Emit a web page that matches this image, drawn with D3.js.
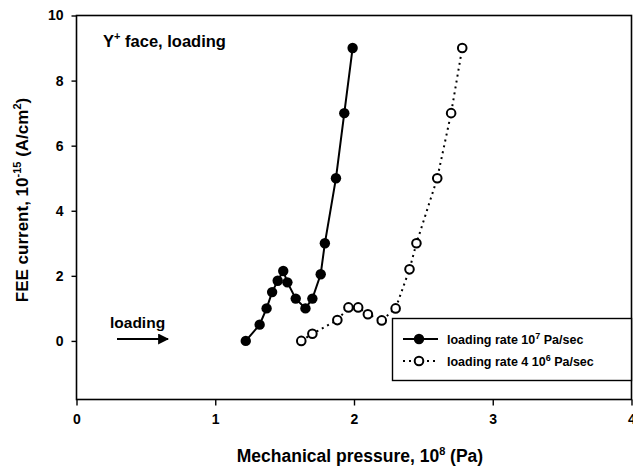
<!DOCTYPE html>
<html>
<head>
<meta charset="utf-8">
<script src="https://cdn.jsdelivr.net/npm/d3@7"></script>
<style>
  body { margin: 0; background: #fff; }
  svg { display: block; font-family: "Liberation Sans", Arial, sans-serif; font-weight: bold; }
</style>
</head>
<body>
<svg id="chart" width="633" height="468"></svg>
<script>
// fast loading rate 10^7 Pa/sec (filled circles)
var fast_x = [1.22, 1.32, 1.37, 1.41, 1.45, 1.49, 1.52, 1.58, 1.65, 1.70, 1.76, 1.79, 1.87, 1.93, 1.99];
var fast_y = [0.0, 0.5, 1.0, 1.5, 1.85, 2.15, 1.8, 1.3, 1.0, 1.3, 2.05, 3.0, 5.0, 7.0, 9.0];

// slow loading rate 4 10^6 Pa/sec (open circles)
var slow_x = [1.62, 1.70, 1.88, 1.96, 2.03, 2.10, 2.20, 2.30, 2.40, 2.45, 2.60, 2.70, 2.78];
var slow_y = [0.0, 0.22, 0.64, 1.03, 1.03, 0.82, 0.63, 1.0, 2.2, 3.0, 5.0, 7.0, 9.0];

var x_ticks = [0, 1, 2, 3, 4];
var y_ticks = [0, 2, 4, 6, 8, 10];

/*************************************************************************/

var svg = d3.select('#chart');
var plotLeft = 76.5, plotRight = 631.5, plotTop = 15.5, plotBottom = 399.5;

var xScale = d3.scaleLinear().domain([0, 4]).range([plotLeft, plotRight]);
var yScale = d3.scaleLinear().domain([-1.8, 10]).range([plotBottom, plotTop]);

// frame
svg.append('rect')
  .attr('x', plotLeft).attr('y', plotTop)
  .attr('width', plotRight - plotLeft).attr('height', plotBottom - plotTop)
  .attr('fill', 'none').attr('stroke', '#000').attr('stroke-width', 1.6);

// axes
var xAxis = svg.append('g').attr('transform', 'translate(0,' + plotBottom + ')')
  .call(d3.axisBottom(xScale).tickValues(x_ticks).tickSize(6).tickPadding(9).tickFormat(d3.format('d')));
var yAxis = svg.append('g').attr('transform', 'translate(' + plotLeft + ',0)')
  .call(d3.axisLeft(yScale).tickValues(y_ticks).tickSize(5).tickPadding(8).tickFormat(d3.format('d')));

[xAxis, yAxis].forEach(function(ax){
  ax.attr('font-size', null).attr('font-family', null);
  ax.select('.domain').remove();
  ax.selectAll('line').attr('stroke', '#000').attr('stroke-width', 1.4);
  ax.selectAll('text').attr('fill', '#000')
    .style('font-size', '14px').style('font-weight', 'bold');
});

// lines and markers
var lineGen = d3.line().x(function(d){ return xScale(d[0]); }).y(function(d){ return yScale(d[1]); });
var fast = fast_x.map(function(d, i){ return [d, fast_y[i]]; });
var slow = slow_x.map(function(d, i){ return [d, slow_y[i]]; });

svg.append('path').attr('d', lineGen(slow))
  .attr('fill', 'none').attr('stroke', '#000').attr('stroke-width', 2)
  .attr('stroke-dasharray', '2,4');
svg.append('path').attr('d', lineGen(fast))
  .attr('fill', 'none').attr('stroke', '#000').attr('stroke-width', 2);

svg.selectAll('.slow').data(slow).enter().append('circle')
  .attr('cx', function(d){ return xScale(d[0]); })
  .attr('cy', function(d){ return yScale(d[1]); })
  .attr('r', 4.3).attr('fill', '#fff').attr('stroke', '#000').attr('stroke-width', 2);
svg.selectAll('.fast').data(fast).enter().append('circle')
  .attr('cx', function(d){ return xScale(d[0]); })
  .attr('cy', function(d){ return yScale(d[1]); })
  .attr('r', 5.2).attr('fill', '#000');

// axis titles
var xt = svg.append('text').attr('x', 360).attr('y', 462).attr('text-anchor', 'middle')
  .style('font-size', '17.5px');
xt.append('tspan').text('Mechanical pressure, 10');
xt.append('tspan').attr('dy', -7).style('font-size', '11px').text('8');
xt.append('tspan').attr('dy', 7).text(' (Pa)');

var yt = svg.append('text').attr('transform', 'translate(28,200) rotate(-90)')
  .attr('text-anchor', 'middle').style('font-size', '17px');
yt.append('tspan').text('FEE current, 10');
yt.append('tspan').attr('dy', -7).style('font-size', '11px').text('-15');
yt.append('tspan').attr('dy', 7).text(' (A/cm');
yt.append('tspan').attr('dy', -7).style('font-size', '11px').text('2');
yt.append('tspan').attr('dy', 7).text(')');

// in-plot annotations
var ann = svg.append('text').attr('x', 103).attr('y', 47).style('font-size', '16.5px');
ann.append('tspan').text('Y');
ann.append('tspan').attr('dy', -7).style('font-size', '11px').text('+');
ann.append('tspan').attr('dy', 7).text(' face, loading');

svg.append('text').attr('x', 110).attr('y', 328).style('font-size', '15.5px').text('loading');
svg.append('defs').append('marker').attr('id', 'arrow')
  .attr('viewBox', '0 0 10 10').attr('refX', 9).attr('refY', 5)
  .attr('markerWidth', 5).attr('markerHeight', 5).attr('orient', 'auto')
  .append('path').attr('d', 'M0,0 L10,5 L0,10 z').attr('fill', '#000');
svg.append('line').attr('x1', 117).attr('x2', 168).attr('y1', 339).attr('y2', 339)
  .attr('stroke', '#000').attr('stroke-width', 2.2).attr('marker-end', 'url(#arrow)');

// legend
var lg = svg.append('g');
lg.append('rect').attr('x', 392.5).attr('y', 318.5).attr('width', plotRight - 392.5).attr('height', 62)
  .attr('fill', '#fff').attr('stroke', '#000').attr('stroke-width', 1.4);

var legendItems = [
  { y: 339, dash: null, fill: '#000', r: 5.2, sw: 0, sup: '7', pre: 'loading rate 10', post: ' Pa/sec' },
  { y: 361, dash: '2,4', fill: '#fff', r: 4.3, sw: 2, sup: '6', pre: 'loading rate 4 10', post: ' Pa/sec' }
];
legendItems.forEach(function(it){
  lg.append('line').attr('x1', 403).attr('x2', 438).attr('y1', it.y).attr('y2', it.y)
    .attr('stroke', '#000').attr('stroke-width', 2).attr('stroke-dasharray', it.dash);
  lg.append('circle').attr('cx', 419).attr('cy', it.y).attr('r', it.r)
    .attr('fill', it.fill).attr('stroke', '#000').attr('stroke-width', it.sw);
  var t = lg.append('text').attr('x', 447).attr('y', it.y + 4.5).style('font-size', '12.5px');
  t.append('tspan').text(it.pre);
  t.append('tspan').attr('dy', -5).style('font-size', '9px').text(it.sup);
  t.append('tspan').attr('dy', 5).text(it.post);
});
</script>
</body>
</html>
